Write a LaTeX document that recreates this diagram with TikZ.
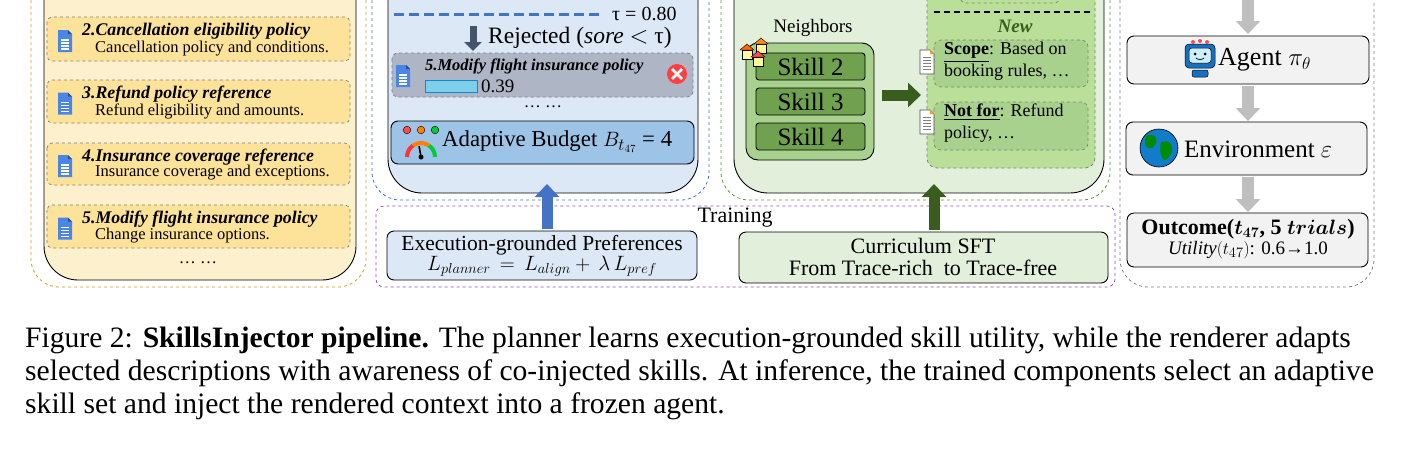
\documentclass[tikz,border=0pt]{standalone}
\usepackage{amsmath,bm}
\usepackage{fontspec}
\setmainfont{Liberation Serif}
\usetikzlibrary{arrows.meta}
\definecolor{goldd}{HTML}{C9A227}
\definecolor{yfill}{HTML}{FDF0CC}
\definecolor{ifill}{HTML}{FDE29A}
\definecolor{bluep}{HTML}{DCE8F5}
\definecolor{blued}{HTML}{4472C4}
\definecolor{rejf}{HTML}{AEB6C6}
\definecolor{budf}{HTML}{9DC3E6}
\definecolor{greenp}{HTML}{E2EFDA}
\definecolor{greend}{HTML}{5B9A3A}
\definecolor{nbf}{HTML}{A9D18E}
\definecolor{skf}{HTML}{6FA14E}
\definecolor{newf}{HTML}{BADF98}
\definecolor{darkg}{HTML}{385D1E}
\definecolor{purp}{HTML}{8E4FC8}
\definecolor{grayf}{HTML}{F2F2F2}
\definecolor{arrg}{HTML}{BFBFBF}
\definecolor{arrdk}{HTML}{44546A}
\definecolor{docb}{HTML}{4A86E8}
\tikzset{
 x=1pt,y=-1pt,
 outer/.style={dashed,line width=0.8pt,rounded corners=28pt},
 inner/.style={draw=black,line width=0.9pt,rounded corners=34pt},
 item/.style={draw=gray,dashed,fill=ifill,rounded corners=5pt,line width=0.7pt},
 ititle/.style={font=\fontsize{17.8}{19}\selectfont\bfseries\itshape,anchor=west,inner sep=0},
 idesc/.style={font=\fontsize{16.5}{18}\selectfont,anchor=west,inner sep=0},
 box/.style={draw=black,line width=0.9pt,rounded corners=7pt},
 txt/.style={inner sep=0,align=center},
 blk/.style={line width=11pt,-{Triangle[length=13pt,width=24pt]}},
 doc/.pic={\fill[docb] (-7,-11) -- (3,-11) -- (7,-7) -- (7,11) -- (-7,11) -- cycle;
   \fill[docb!60!black] (3,-11) -- (3,-7) -- (7,-7) -- cycle;
   \foreach \yy in {-1,2,5,8}{\draw[white,line width=1.1pt] (-4,\yy) -- (4,\yy);}},
 paper/.pic={\fill[white,draw=black!70,line width=0.6pt] (-7,-12) -- (3,-12) -- (7,-8) -- (7,12) -- (-7,12) -- cycle;
   \fill[orange!80] (3,-12) -- (3,-8) -- (7,-8) -- cycle;
   \foreach \yy in {-5,-2,1,4,7}{\draw[gray,line width=0.9pt] (-4,\yy) -- (4,\yy);}},
}
\begin{document}
\begin{tikzpicture}
\useasboundingbox (0,0) rectangle (1410,450);
\clip (0,0) rectangle (1410,450);
% ---------- left panel
\draw[outer,draw=goldd] (31,-40) rectangle (366,287);
\draw[inner,fill=yfill] (44,-40) rectangle (356,280);
\foreach \n/\t/\d/\ya/\yb in {2/Cancellation eligibility policy/Cancellation policy and conditions./17/61,
 3/Refund policy reference/Refund eligibility and amounts./80/123,
 4/Insurance coverage reference/Insurance coverage and exceptions./143/185,
 5/Modify flight insurance policy/Change insurance options./205/248}{
 \draw[item] (47,\ya) rectangle (350,\yb);
 \pic at (65,{(\ya+\yb)/2+2}) {doc};
 \node[ititle] (it\n) at (82,{\ya+14}) {\n.\t};
 \node[idesc] (id\n) at (95,{\yb-12}) {\d};
}
\node[txt,font=\fontsize{17}{19}\selectfont] (ldots) at (198,263) {\dots\ \dots};
% ---------- middle (planner) panel
\draw[outer,draw=blued] (372,-40) rectangle (709,200);
\draw[inner,fill=bluep] (388,-40) rectangle (698,193);
\draw[blued,line width=3pt,dash pattern=on 10pt off 5pt] (394,14) -- (602,14);
\node[txt,font=\fontsize{20}{22}\selectfont,anchor=west] (tau) at (612,14) {τ = 0.80};
\coordinate (ra) at (473,26);
\coordinate (rb) at (473,51);
\draw[line width=7pt,arrdk,-{Triangle[length=9pt,width=17pt]}] (ra) -- (rb);
\node[txt,font=\fontsize{23.5}{25}\selectfont,anchor=west] (rej) at (488,38) {Rejected (\textit{sore} $<$\ τ)};
\draw[draw=gray,dashed,fill=rejf,rounded corners=6pt,line width=0.8pt] (392,53) rectangle (693,97);
\node[inner sep=0,minimum size=0] (rejbox) at (542,75) {};
\pic at (403,76) {doc};
\node[ititle,font=\fontsize{16.5}{18}\selectfont\bfseries\itshape] (rt) at (425,66) {5.Modify flight insurance policy};
\draw[fill=budf!80!cyan,draw=cyan!70!blue] (425,80) rectangle (477,92);
\node[idesc,font=\fontsize{19}{21}\selectfont] (r39) at (481,86) {0.39};
\node[circle,fill=red!75,minimum size=20pt,inner sep=0] (xx) at (677,74) {};
\draw[white,line width=2.6pt] ([shift={(-5,-5)}]xx.center) -- ([shift={(5,5)}]xx.center)
 ([shift={(-5,5)}]xx.center) -- ([shift={(5,-5)}]xx.center);
\node[txt,font=\fontsize{17}{19}\selectfont] (mdots) at (543,107) {\dots\ \dots};
\draw[box,fill=budf] (391,121) rectangle (694,164);
\node[inner sep=0] (budbox) at (542,142) {};
% gauge icon
\begin{scope}[shift={(421,157)},yscale=-1]
\draw[line width=4pt,red!80] (180:14) arc[start angle=180,end angle=125,radius=14];
\draw[line width=4pt,orange] (125:14) arc[start angle=125,end angle=55,radius=14];
\draw[line width=4pt,green!60!teal] (55:14) arc[start angle=55,end angle=0,radius=14];
\draw[line width=1.6pt,black] (0,0) -- (100:11);
\fill[black] (0,0) circle (2.5);
\foreach \xx/\cc in {-14/red!70,0/orange,14/green!60!teal}{\fill[\cc,draw=black,line width=0.4pt] (\xx,27) circle (3.8);}
\end{scope}
\node[txt,font=\fontsize{22.8}{24}\selectfont,anchor=west] (bud) at (442,142) {Adaptive Budget $B_{t_{47}}$ = 4};
% ---------- green (renderer) panel
\draw[outer,draw=greend] (721,-40) rectangle (1110,200);
\draw[inner,fill=greenp] (734,-40) rectangle (1104,193);
\node[txt,font=\fontsize{19}{21}\selectfont] (nb) at (813,28) {Neighbors};
\draw[box,fill=nbf,rounded corners=12pt] (746,43) rectangle (874,160);
\foreach \k/\ya in {2/53,3/88,4/123}{
 \draw[box,fill=skf,rounded corners=3pt] (756,\ya) rectangle (865,{\ya+27});
 \node[txt,font=\fontsize{25}{27}\selectfont] (sk\k) at (810.5,{\ya+14}) {Skill \k};
}
% houses
\foreach \hx/\hy/\hc in {747/50/orange!80!red,761/44/orange!90,758/57/red!70}{
 \fill[yellow!40,draw=black,line width=0.4pt] (\hx-5,\hy) rectangle (\hx+5,\hy+9);
 \fill[\hc,draw=black,line width=0.4pt] (\hx-7,\hy) -- (\hx,\hy-6) -- (\hx+7,\hy) -- cycle;}
\draw[blk,darkg] (882,95) -- (921,95);
\draw[draw=gray,dashed,fill=newf,rounded corners=10pt,line width=0.8pt] (927,-30) rectangle (1095,168);
\draw[draw=gray,dashed,rounded corners=6pt,line width=0.7pt] (960,-30) rectangle (1060,3);
\draw[black,line width=1.2pt,dashed,dash pattern=on 6pt off 4pt] (934,12) -- (1090,12);
\node[txt,font=\fontsize{19}{21}\selectfont\bfseries\itshape,text=darkg] (new) at (1015,26) {New};
\draw[draw=gray,dashed,fill=nbf,rounded corners=7pt,line width=0.7pt] (934,40) rectangle (1088,87);
\draw[draw=gray,dashed,fill=nbf,rounded corners=7pt,line width=0.7pt] (934,102) rectangle (1088,150);
\pic at (927,62) {paper};
\pic at (927,122) {paper};
\node[txt,font=\fontsize{18}{22}\selectfont,anchor=north west,align=left] (scope) at (944,42) {\underline{\textbf{Scope}}: Based on\\booking rules, \dots};
\node[txt,font=\fontsize{18}{22}\selectfont,anchor=north west,align=left] (notfor) at (944,104) {\underline{\textbf{Not for}}: Refund\\policy, \dots};
% ---------- training
\draw[dashed,draw=purp,line width=0.8pt,rounded corners=8pt] (376,206) rectangle (1115,287);
\node[txt,font=\fontsize{22}{24}\selectfont] (train) at (735,218) {Training};
\draw[box,fill=bluep] (387,231) rectangle (697,280);
\node[txt,font=\fontsize{21.5}{21}\selectfont] (exe) at (542,256) {Execution-grounded Preferences\\[-1pt]$L_{planner}\,=\,L_{align}+\,\lambda\, L_{pref}$};
\draw[box,fill=greenp] (739,232) rectangle (1108,283);
\node[txt,font=\fontsize{22}{22}\selectfont] (cur) at (923,257) {Curriculum SFT\\From Trace-rich\ \ to Trace-free};
\coordinate (eu) at (547,229);
\coordinate (ed) at (547,184);
\draw[blk,blued] (eu) -- (ed);
\coordinate (cu) at (934,230);
\coordinate (cd) at (934,184);
\draw[blk,darkg] (cu) -- (cd);
% ---------- right panel
\draw[outer,draw=gray] (1120,-40) rectangle (1374,287);
\draw[box,fill=grayf] (1127,36) rectangle (1369,84);
\draw[box,fill=grayf] (1126,122) rectangle (1367,175);
\draw[box,fill=grayf] (1127,213) rectangle (1368,267);
\node[inner sep=0] (agb) at (1248,60) {};
\node[inner sep=0] (envb) at (1247,148) {};
\node[inner sep=0] (outb) at (1248,240) {};
\coordinate (a0) at (1248,-2);
\draw[blk,arrg,line width=12pt] (a0) -- (1248,34);
\draw[blk,arrg,line width=12pt] (1248,86) -- (1248,121);
\draw[blk,arrg,line width=12pt] (1248,177) -- (1248,212);
% robot
\fill[cyan!50!blue,draw=black,line width=0.5pt,rounded corners=4pt] (1185,44) rectangle (1215,68);
\fill[white!80!cyan,draw=black,line width=0.5pt,rounded corners=3pt] (1189,48) rectangle (1211,63);
\fill[black] (1195,54) circle (1.5) (1205,54) circle (1.5);
\draw[line width=0.7pt] (1196,58) .. controls (1198,60) and (1202,60) .. (1204,58);
\fill[cyan!50!blue,draw=black,line width=0.5pt,rounded corners=2pt] (1192,70) rectangle (1208,77);
\fill[red!70] (1193,42) circle (2) (1200,41) circle (2) (1207,42) circle (2);
\node[txt,font=\fontsize{26}{28}\selectfont,anchor=west] (agent) at (1218,60) {Agent $\pi_\theta$};
% globe
\fill[cyan!60!blue,draw=black,line width=0.6pt] (1159,148) circle (19);
\fill[green!55!black] (1146,136) .. controls (1155,132) and (1160,140) .. (1154,146) .. controls (1150,152) and (1142,146) .. (1146,136);
\fill[green!55!black] (1161,142) .. controls (1172,138) and (1176,150) .. (1168,158) .. controls (1164,164) and (1158,156) .. (1161,142);
\node[txt,font=\fontsize{25}{27}\selectfont,anchor=west] (env) at (1184,149) {Environment $\varepsilon$};
\node[txt,font=\fontsize{22}{24}\selectfont] (out) at (1248,239) {\textbf{Outcome(}$\bm{t_{47}}$\textbf{, 5} $\bm{trials}$\textbf{)}\\[-4pt]{\fontsize{19}{20}\selectfont $\mathit{Utility}(t_{47})$: 0.6→1.0}};
% ---------- caption
\begin{scope}[every node/.style={anchor=west,inner sep=0,font=\fontsize{29.6}{32}\selectfont}]
\node (c1) at (25,340) {Figure 2: \textbf{SkillsInjector pipeline.} The planner learns execution-grounded skill utility, while the renderer adapts};
\node (c2) at (25,373) {selected descriptions with awareness of co-injected skills. At inference, the trained components select an adaptive};
\node (c3) at (25,406) {skill set and inject the rendered context into a frozen agent.};
\end{scope}
\end{tikzpicture}
\end{document}
